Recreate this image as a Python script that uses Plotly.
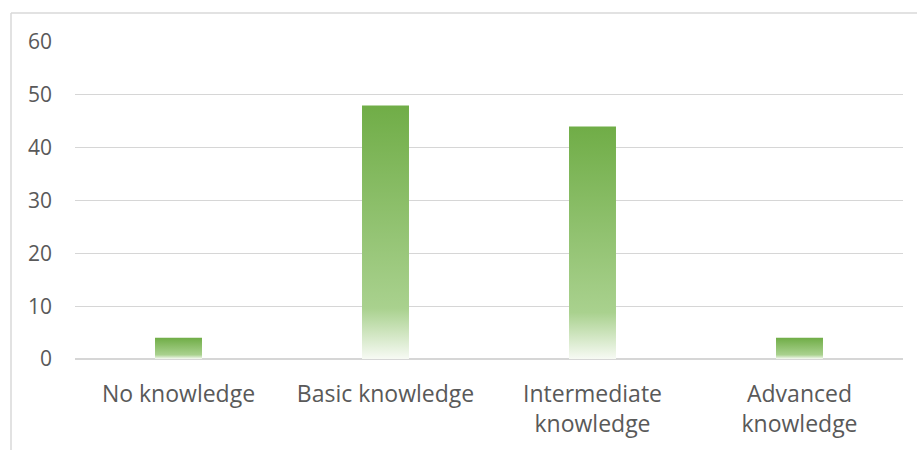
import plotly.graph_objects as go

categories = ["No knowledge", "Basic knowledge", "Intermediate<br>knowledge", "Advanced<br>knowledge"]
values = [4, 48, 44, 4]
y_ticks = [0, 10, 20, 30, 40, 50, 60]

BAR_WIDTH = 0.227
GRADIENT = [[0.0, "#f7faf4"], [0.2, "#a9d18e"], [1.0, "#70ad47"]]

fig = go.Figure()
for i, v in enumerate(values):
    x0, x1 = i - BAR_WIDTH / 2, i + BAR_WIDTH / 2
    fig.add_trace(go.Scatter(
        x=[x0, x1, x1, x0, x0],
        y=[0, 0, v, v, 0],
        mode="lines",
        line=dict(width=0),
        fill="toself",
        fillgradient=dict(type="vertical", colorscale=GRADIENT),
        hoverinfo="skip",
        showlegend=False,
    ))

W, H = 917, 450
ml, mr, mt, mb = 75, 14, 42, 91
pw, ph = W - ml - mr, H - mt - mb

def px_to_paper_x(px):
    return (px - ml) / pw

def py_to_paper_y(py):
    return (H - mb - py) / ph

fig.update_layout(
    width=W, height=H,
    margin=dict(l=ml, r=mr, t=mt, b=mb),
    paper_bgcolor="white", plot_bgcolor="white",
    font=dict(family="Open Sans", size=21, color="#595959"),
    xaxis=dict(
        range=[-0.5, 3.5],
        tickvals=list(range(len(categories))),
        ticktext=categories,
        tickfont=dict(size=23),
        showgrid=False, zeroline=False, showline=False,
        ticks="", ticklabelstandoff=19,
        fixedrange=True,
    ),
    yaxis=dict(
        range=[0, 60],
        tickvals=y_ticks,
        showgrid=True, gridcolor="#d6d6d6", gridwidth=1.4,
        zeroline=True, zerolinecolor="#d6d6d6", zerolinewidth=2,
        showline=False, ticks="", ticklabelstandoff=22,
        fixedrange=True,
    ),
    shapes=[
        dict(type="line", xref="paper", yref="paper",
             x0=px_to_paper_x(11), x1=px_to_paper_x(917),
             y0=py_to_paper_y(13), y1=py_to_paper_y(13),
             line=dict(color="#d9d9d9", width=1.5)),
        dict(type="line", xref="paper", yref="paper",
             x0=px_to_paper_x(11), x1=px_to_paper_x(11),
             y0=py_to_paper_y(13), y1=py_to_paper_y(452),
             line=dict(color="#d9d9d9", width=1.5)),
    ],
)

fig.write_html("out.html")
